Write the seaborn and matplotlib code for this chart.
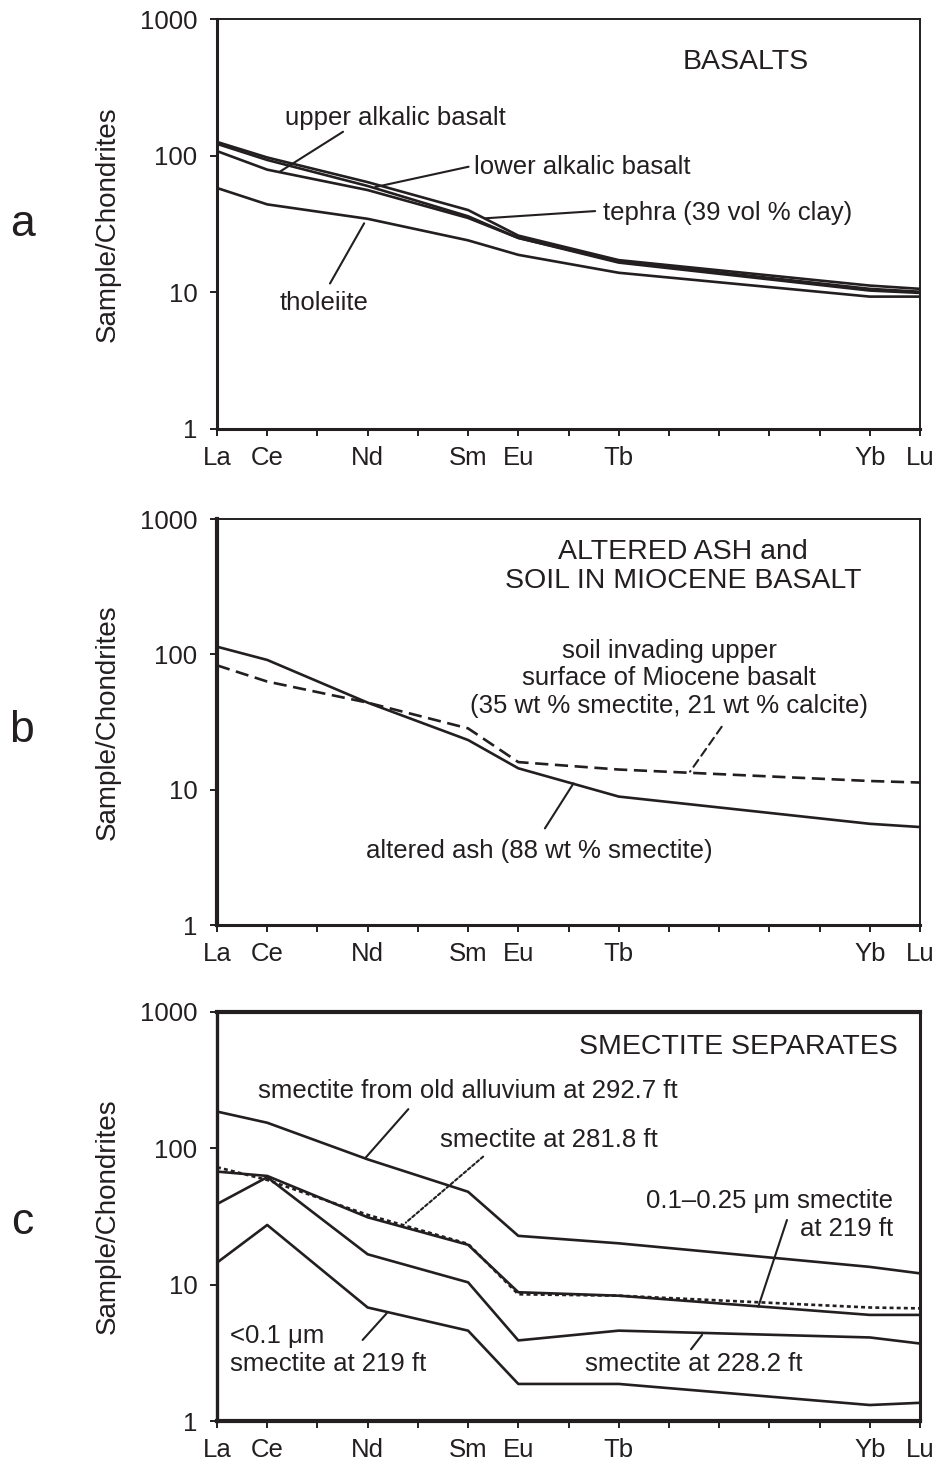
import matplotlib
matplotlib.use("Agg")
import matplotlib.pyplot as plt
from matplotlib.ticker import FixedLocator, NullLocator
import pandas as pd
import seaborn as sns

# REE plotted against atomic number
elements = ["La", "Ce", "Nd", "Sm", "Eu", "Tb", "Yb", "Lu"]
atomic_no = [57, 58, 60, 62, 63, 65, 70, 71]
tick_symbols = ["La", "Ce", "", "Nd", "", "Sm", "Eu", "", "Tb",
                "", "", "", "", "Yb", "Lu"]

# panel a - basalts
upper_alkalic = [108, 79, 56, 35, 25, 16.5, 10.3, 9.9]
lower_alkalic = [122, 93, 60, 36, 25, 16.8, 10.6, 10.1]
tephra = [126, 97, 64, 40, 26, 17.2, 11.2, 10.6]
tholeiite = [58, 44, 34.5, 24, 18.8, 13.9, 9.3, 9.3]

# panel b - altered ash and soil
altered_ash = [114, 91, 44, 23.3, 14.4, 8.9, 5.6, 5.3]
soil_miocene = [83, 63, 44, 28.4, 16.0, 14.1, 11.6, 11.3]

# panel c - smectite separates
old_alluvium_2927 = [186, 154, 83, 48, 22.8, 20.1, 13.5, 12.1]
size_01_025_219 = [67.5, 62.7, 31.2, 19.6, 8.8, 8.3, 6.0, 6.0]
smectite_2818 = [72.7, 58.6, 32.5, 19.9, 8.5, 8.3, 6.8, 6.7]
smectite_2282 = [39, 61.4, 16.7, 10.4, 3.9, 4.6, 4.1, 3.7]
size_lt01_219 = [14.5, 27.4, 6.8, 4.6, 1.87, 1.87, 1.31, 1.36]

INK = "#231f20"
SOLID = ""
DASHED = (5, 2.5)
DOTTED = (1.5, 1.2)


def long_table(series):
    rows = []
    for name, values in series.items():
        for z, v in zip(atomic_no, values):
            rows.append({"series": name, "z": z, "value": v})
    return pd.DataFrame(rows)


def ree_axes(ax, lw_left=2.2, lw_bottom=2.2, lw_top=1.4, lw_right=1.4):
    ax.set_yscale("log")
    ax.set_xlim(57, 71)
    ax.set_ylim(1, 1000)
    ax.xaxis.set_major_locator(FixedLocator(list(range(57, 72))))
    ax.set_xticklabels(tick_symbols)
    ax.yaxis.set_major_locator(FixedLocator([1, 10, 100, 1000]))
    ax.set_yticklabels(["1", "10", "100", "1000"])
    ax.yaxis.set_minor_locator(NullLocator())
    ax.xaxis.set_minor_locator(NullLocator())
    ax.tick_params(axis="both", direction="out", length=5, width=1.4,
                   colors=INK, labelsize=18.5, labelcolor=INK)
    ax.tick_params(axis="x", pad=7)
    ax.tick_params(axis="y", pad=9)
    for side, lw in (("left", lw_left), ("bottom", lw_bottom),
                     ("top", lw_top), ("right", lw_right)):
        ax.spines[side].set_visible(True)
        ax.spines[side].set_linewidth(lw)
        ax.spines[side].set_color(INK)
    ax.set_xlabel("")
    ax.set_ylabel("Sample/Chondrites", fontsize=20, color=INK)
    ax.yaxis.set_label_coords(-0.137, 0.5)


def draw(ax, series, dashes):
    df = long_table(series)
    sns.lineplot(data=df, x="z", y="value", hue="series", style="series",
                 palette={k: INK for k in series}, dashes=dashes,
                 estimator=None, sort=False, legend=False, linewidth=1.9,
                 ax=ax, clip_on=True)


def leader(ax, start, end, ls="-"):
    ax.annotate("", xy=start, xytext=end,
                arrowprops=dict(arrowstyle="-", color=INK, lw=1.5,
                                linestyle=ls, shrinkA=0, shrinkB=0))


sns.set_theme(style="ticks")
plt.rcParams["font.family"] = ["Liberation Sans", "DejaVu Sans"]
plt.rcParams["text.color"] = INK

fig = plt.figure(figsize=(9.39, 14.63), dpi=100)
ax_a = fig.add_axes([0.2311, 0.7068, 0.7487, 0.2802])
ax_b = fig.add_axes([0.2311, 0.3677, 0.7487, 0.2775])
ax_c = fig.add_axes([0.2311, 0.0287, 0.7487, 0.2796])

# ---- a
series_a = {"upper alkalic basalt": upper_alkalic,
            "lower alkalic basalt": lower_alkalic,
            "tephra": tephra, "tholeiite": tholeiite}
draw(ax_a, series_a, {k: SOLID for k in series_a})
ree_axes(ax_a)
ax_a.text(67.52, 484, "BASALTS", fontsize=20.5, ha="center", va="center")
ax_a.text(58.35, 188, "upper alkalic basalt", fontsize=18.5, va="center")
leader(ax_a, (58.25, 76.3), (59.51, 149.6))
ax_a.text(62.12, 82.5, "lower alkalic basalt", fontsize=18.5, va="center")
leader(ax_a, (60.15, 58.9), (62.01, 83))
ax_a.text(64.69, 38.0, "tephra (39 vol % clay)", fontsize=18.5, va="center")
leader(ax_a, (62.34, 34.8), (64.53, 39.3))
ax_a.text(58.24, 8.35, "tholeiite", fontsize=18.5, va="center")
leader(ax_a, (59.93, 32), (59.25, 11.6))

# ---- b
series_b = {"altered ash": altered_ash, "soil": soil_miocene}
draw(ax_b, series_b, {"altered ash": SOLID, "soil": DASHED})
ree_axes(ax_b, lw_left=3.0)
ax_b.text(66.28, 450, "ALTERED ASH and\nSOIL IN MIOCENE BASALT",
          fontsize=20.5, ha="center", va="center", linespacing=1.15)
ax_b.text(66.0, 66.4, "soil invading upper\nsurface of Miocene basalt\n"
          "(35 wt % smectite, 21 wt % calcite)",
          fontsize=18.5, ha="center", va="center", linespacing=1.2)
leader(ax_b, (66.42, 13.6), (67.05, 29.2), ls=(0, (4, 2.5)))
ax_b.text(59.97, 3.52, "altered ash (88 wt % smectite)", fontsize=18.5,
          va="center")
leader(ax_b, (64.10, 11.15), (63.53, 5.18))

# ---- c
series_c = {"292.7": old_alluvium_2927, "0.1-0.25 219": size_01_025_219,
            "281.8": smectite_2818, "228.2": smectite_2282,
            "<0.1 219": size_lt01_219}
dash_c = {k: SOLID for k in series_c}
dash_c["281.8"] = DOTTED
draw(ax_c, series_c, dash_c)
ree_axes(ax_c, lw_left=2.4, lw_bottom=3.0, lw_top=3.0, lw_right=2.2)
ax_c.text(67.38, 555, "SMECTITE SEPARATES", fontsize=20.5, ha="center",
          va="center")
ax_c.text(57.82, 264, "smectite from old alluvium at 292.7 ft",
          fontsize=18.5, va="center")
leader(ax_c, (59.95, 84.6), (60.81, 193.7))
ax_c.text(61.44, 115, "smectite at 281.8 ft", fontsize=18.5, va="center")
leader(ax_c, (60.76, 28.5), (62.30, 86.9), ls=(0, (1.5, 1.2)))
ax_c.text(70.47, 32.5, "0.1\u20130.25 \u03bcm smectite\nat 219 ft",
          fontsize=18.5, ha="right", va="center", multialignment="right",
          linespacing=1.2)
leader(ax_c, (67.78, 6.9), (68.35, 29.8))
ax_c.text(64.33, 2.62, "smectite at 228.2 ft", fontsize=18.5, va="center")
leader(ax_c, (66.66, 4.28), (66.44, 3.36))
ax_c.text(57.26, 3.32, "<0.1 \u03bcm\nsmectite at 219 ft", fontsize=18.5,
          va="center", linespacing=1.2)
leader(ax_c, (60.38, 6.17), (59.90, 3.93))

# panel letters
for letter, ypx in (("a", 225), ("b", 730), ("c", 1222)):
    fig.text(22 / 939, 1 - ypx / 1463, letter, fontsize=32, ha="center",
             va="center", color=INK)

fig.savefig("out.png", dpi=100, facecolor="white")
